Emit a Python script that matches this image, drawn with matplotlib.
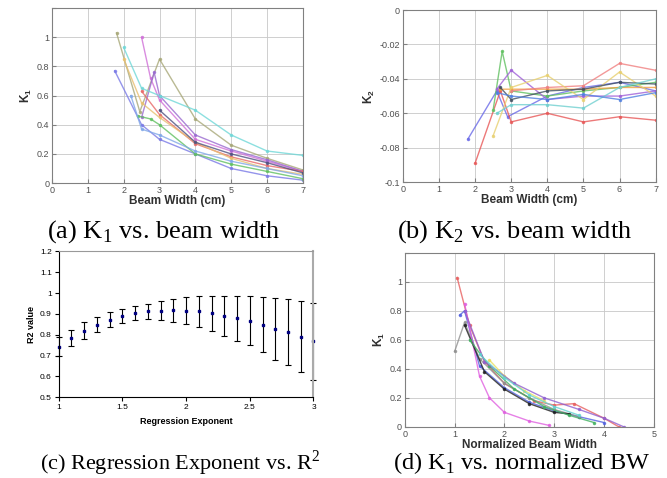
import matplotlib
matplotlib.use("Agg")
import matplotlib.pyplot as plt

plt.rcParams["mathtext.fontset"] = "custom"
plt.rcParams["mathtext.rm"] = "Liberation Serif"
plt.rcParams["mathtext.bf"] = "Liberation Sans:bold"

# ---- (a) K1 vs beam width ----
a_colors = ["#7a7ae6", "#a8a878", "#d070d8", "#9a6ad0", "#70d8d8",
            "#60c060", "#e86868", "#e8c070", "#505080", "#80a8e8"]
a_x = [
    [1.75, 2.5, 3, 4, 5, 6, 7],
    [1.8, 2.45, 3, 4, 5, 6, 7],
    [2.5, 2.75, 3, 4, 5, 6, 7],
    [2.5, 2.85, 3, 4, 5, 6, 7],
    [2.0, 2.5, 3, 4, 5, 6, 7],
    [2.4, 2.75, 3, 4, 5, 6, 7],
    [2.5, 3, 4, 5, 6, 7],
    [2.0, 2.5, 3, 4, 5, 6, 7],
    [3, 4, 5, 6, 7],
    [2.2, 2.5, 3, 4, 5, 6, 7],
]
a_y = [
    [0.77, 0.40, 0.30, 0.20, 0.10, 0.05, 0.02],
    [1.03, 0.49, 0.85, 0.44, 0.26, 0.17, 0.09],
    [1.00, 0.72, 0.57, 0.30, 0.22, 0.15, 0.08],
    [0.45, 0.76, 0.60, 0.33, 0.23, 0.16, 0.08],
    [0.93, 0.65, 0.60, 0.50, 0.33, 0.22, 0.19],
    [0.46, 0.44, 0.40, 0.20, 0.13, 0.08, 0.03],
    [0.63, 0.47, 0.27, 0.18, 0.12, 0.08],
    [0.85, 0.55, 0.45, 0.28, 0.17, 0.10, 0.06],
    [0.50, 0.28, 0.20, 0.14, 0.07],
    [0.60, 0.37, 0.33, 0.22, 0.15, 0.10, 0.05],
]

# ---- (b) K2 vs beam width ----
b_colors = ["#6a6ae8", "#e85858", "#60c060", "#a060d8", "#f0a040",
            "#f08080", "#e8d070", "#405060", "#70d0d0", "#5080e0"]
b_x = [
    [1.8, 2.6, 2.9, 4, 5, 6, 7],
    [2.0, 2.7, 3, 4, 5, 6, 7],
    [2.5, 2.75, 3, 4, 5, 6, 7],
    [2.6, 3, 4, 5, 6, 7],
    [2.7, 3, 4, 5, 6, 7],
    [3, 4, 5, 6, 7],
    [2.5, 3, 4, 5, 6, 7],
    [2.7, 3, 4, 5, 6, 7],
    [2.6, 3, 4, 5, 6, 7],
    [2.6, 3, 4, 5, 6, 7],
]
b_y = [
    [-0.075, -0.047, -0.062, -0.050, -0.045, -0.042, -0.047],
    [-0.089, -0.047, -0.065, -0.060, -0.065, -0.062, -0.064],
    [-0.058, -0.024, -0.047, -0.050, -0.047, -0.045, -0.042],
    [-0.046, -0.035, -0.052, -0.050, -0.050, -0.047],
    [-0.046, -0.046, -0.046, -0.046, -0.045, -0.045],
    [-0.047, -0.045, -0.044, -0.031, -0.035],
    [-0.073, -0.045, -0.038, -0.052, -0.036, -0.050],
    [-0.045, -0.052, -0.047, -0.046, -0.042, -0.043],
    [-0.060, -0.055, -0.055, -0.057, -0.045, -0.040],
    [-0.048, -0.050, -0.052, -0.049, -0.052, -0.048],
]

# ---- (c) regression exponent vs R2 ----
c_exp = [1.0, 1.1, 1.2, 1.3, 1.4, 1.5, 1.6, 1.7, 1.8, 1.9, 2.0,
         2.1, 2.2, 2.3, 2.4, 2.5, 2.6, 2.7, 2.8, 2.9, 3.0]
c_r2 = [0.743, 0.785, 0.820, 0.849, 0.873, 0.891, 0.904, 0.912, 0.916, 0.918, 0.916,
        0.912, 0.904, 0.892, 0.879, 0.867, 0.849, 0.828, 0.812, 0.791, 0.769]
c_err = [0.045, 0.040, 0.040, 0.037, 0.035, 0.034, 0.034, 0.037, 0.046, 0.055, 0.065,
         0.073, 0.084, 0.096, 0.107, 0.118, 0.133, 0.147, 0.158, 0.170, 0.184]

# ---- (d) K1 vs normalized beam width ----
d_colors = ["#e86060", "#5060e0", "#909090", "#e060e0", "#202020",
            "#40b060", "#e8e060", "#9060d0", "#60d0d0"]
d_x = [
    [1.05, 1.3, 1.6, 2.0, 2.6, 3.0, 3.4, 4.0, 4.3],
    [1.1, 1.2, 1.5, 2.0, 2.5, 3.0, 3.5, 4.0],
    [1.0, 1.2, 1.5, 2.0, 2.5, 3.0, 3.5],
    [1.2, 1.5, 1.7, 2.0, 2.5, 2.9],
    [1.2, 1.6, 2.0, 2.5, 3.0, 3.3],
    [1.3, 1.7, 2.2, 2.8, 3.3, 3.8],
    [1.7, 2.0, 2.4, 2.8],
    [1.2, 1.6, 2.2, 2.8, 3.5, 4.0, 4.4],
    [1.5, 2.0, 2.5, 3.0, 3.5],
]
d_y = [
    [1.03, 0.70, 0.45, 0.30, 0.18, 0.15, 0.16, 0.06, 0.00],
    [0.77, 0.80, 0.42, 0.27, 0.17, 0.11, 0.07, 0.03],
    [0.52, 0.72, 0.47, 0.30, 0.20, 0.12, 0.07],
    [0.85, 0.35, 0.20, 0.10, 0.04, 0.01],
    [0.70, 0.38, 0.26, 0.16, 0.10, 0.09],
    [0.60, 0.42, 0.26, 0.14, 0.08, 0.03],
    [0.46, 0.35, 0.25, 0.18],
    [0.80, 0.45, 0.30, 0.20, 0.12, 0.06, 0.00],
    [0.50, 0.34, 0.22, 0.14, 0.08],
]

SANS = "Liberation Sans"
SERIF = "Liberation Serif"


def matlab_axes(ax, xlim, ylim, xticks, yticks, yticklabels, xlabel, ylabel, xpad=0):
    ax.set_xlim(*xlim)
    ax.set_ylim(*ylim)
    ax.set_xticks(xticks)
    ax.set_yticks(yticks)
    ax.set_yticklabels(yticklabels)
    ax.grid(True, color="#c8c8c8", lw=0.6)
    ax.tick_params(direction="in", length=3, labelsize=6.5, labelcolor="#505050",
                   color="#808080", pad=2)
    for s in ax.spines.values():
        s.set_color("#808080")
        s.set_linewidth(0.8)
    ax.set_xlabel(xlabel, fontsize=8.5, fontweight="bold", family=SANS, labelpad=xpad, color="#303030")
    ax.set_ylabel(ylabel, fontsize=8.5, family=SANS, labelpad=2, color="#303030")
    for t in ax.get_xticklabels() + ax.get_yticklabels():
        t.set_family(SANS)


def draw_lines(ax, xs_list, ys_list, colors):
    for xs, ys, c in zip(xs_list, ys_list, colors):
        ax.plot(xs, ys, color=c, lw=1.0, marker=".", ms=3, alpha=0.8)


fig = plt.figure(figsize=(6.67, 4.78), dpi=100)

# (a)
ax = fig.add_axes([0.078, 0.617, 0.376, 0.366])
draw_lines(ax, a_x, a_y, a_colors)
matlab_axes(ax, (0, 7), (0, 1.2), range(0, 8), [0, 0.2, 0.4, 0.6, 0.8, 1.0, 1.2],
            ["0", "0.2", "0.4", "0.6", "0.8", "1", ""], "Beam Width (cm)", r"$\mathbf{K_1}$")

# (b)
ax = fig.add_axes([0.604, 0.619, 0.379, 0.36])
draw_lines(ax, b_x, b_y, b_colors)
matlab_axes(ax, (0, 7), (-0.1, 0), range(0, 8), [-0.1, -0.08, -0.06, -0.04, -0.02, 0],
            ["-0.1", "-0.08", "-0.06", "-0.04", "-0.02", "0"], "Beam Width (cm)", r"$\mathbf{K_2}$")

# (c)
ax = fig.add_axes([0.088, 0.169, 0.382, 0.305])
eb = ax.errorbar(c_exp, c_r2, yerr=c_err, fmt="s", ms=1.8, color="#000080",
                 ecolor="black", elinewidth=0.8, capsize=2.2, capthick=0.8)
for art in eb.get_children():
    art.set_clip_on(False)
ax.set_xlim(1, 3)
ax.set_ylim(0.5, 1.2)
ax.set_xticks([1, 1.5, 2, 2.5, 3])
ax.set_xticklabels(["1", "1.5", "2", "2.5", "3"])
ax.set_yticks([0.5, 0.6, 0.7, 0.8, 0.9, 1.0, 1.1, 1.2])
ax.set_yticklabels(["0.5", "0.6", "0.7", "0.8", "0.9", "1", "1.1", "1.2"])
ax.tick_params(direction="out", length=3, labelsize=6, width=0.8, pad=2)
for t in ax.get_xticklabels() + ax.get_yticklabels():
    t.set_family(SANS)
ax.spines["left"].set_color("black")
ax.spines["bottom"].set_color("black")
ax.spines["top"].set_color("#999999")
ax.spines["right"].set_color("#aaaaaa")
ax.spines["right"].set_linewidth(1.5)
ax.set_xlabel("Regression Exponent", fontsize=6.5, fontweight="bold", family=SANS, labelpad=4)
ax.set_ylabel("R2 value", fontsize=6.5, fontweight="bold", family=SANS, labelpad=3)

# (d)
ax = fig.add_axes([0.607, 0.107, 0.373, 0.364])
draw_lines(ax, d_x, d_y, d_colors)
matlab_axes(ax, (0, 5), (0, 1.2), range(0, 6), [0, 0.2, 0.4, 0.6, 0.8, 1.0, 1.2],
            ["0", "0.2", "0.4", "0.6", "0.8", "1", ""], "Normalized Beam Width", r"$\mathbf{K_1}$",
            xpad=0.5)

# captions
cap = dict(family=SERIF, ha="center", va="center")
fig.text(0.246, 0.515, r"(a) K$_{\rm 1}$ vs. beam width", fontsize=19, **cap)
fig.text(0.771, 0.515, r"(b) K$_{\rm 2}$ vs. beam width", fontsize=19, **cap)
fig.text(0.270, 0.032, r"(c) Regression Exponent vs. R$^{\rm 2}$", fontsize=16, **cap)
fig.text(0.782, 0.031, r"(d) K$_{\rm 1}$ vs. normalized BW", fontsize=17.5, **cap)

fig.savefig("out.png", dpi=100)
